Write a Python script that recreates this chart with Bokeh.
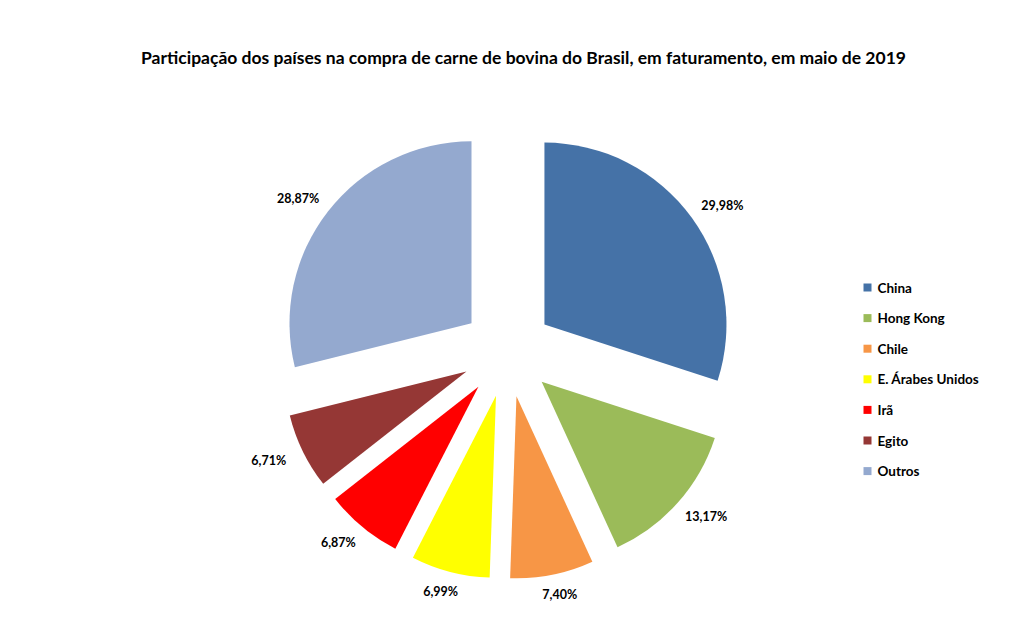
import math
from bokeh.plotting import figure
from bokeh.models import ColumnDataSource, Range1d
from bokeh.core.properties import value
from bokeh.embed import file_html
from bokeh.resources import INLINE

# Share of Brazilian beef export revenue by destination, May 2019
countries = ["China", "Hong Kong", "Chile", "E. Árabes Unidos", "Irã", "Egito", "Outros"]
shares = [29.98, 13.17, 7.40, 6.99, 6.87, 6.71, 28.87]
colors = ["#4572A7", "#9BBB59", "#F79646", "#FFFF00", "#FF0000", "#953735", "#94A9CF"]
labels = [f"{v:.2f}%".replace(".", ",") for v in shares]

W, H = 1012, 631
FONT = "Lato"

p = figure(width=W, height=H, output_backend="svg", toolbar_location=None,
           x_range=Range1d(0, W), y_range=Range1d(0, H), min_border=0,
           tools="")
p.axis.visible = False
p.grid.visible = False
p.outline_line_color = None
p.background_fill_color = "white"

# pie geometry (screen pixels, y measured upward)
cx, cy = 507.0, H - 351.0
radius = 182.0
explode = 45.7

total = sum(shares)
starts, ends, xs, ys, lx, ly = [], [], [], [], [], []
acc = 0.0
for v in shares:
    t0 = acc / total * 2 * math.pi          # clockwise from 12 o'clock
    t1 = (acc + v) / total * 2 * math.pi
    acc += v
    mid = (t0 + t1) / 2
    dx, dy = math.sin(mid), math.cos(mid)
    ox, oy = cx + explode * dx, cy + explode * dy
    xs.append(ox)
    ys.append(oy)
    starts.append(math.pi / 2 - t1)
    ends.append(math.pi / 2 - t0)
    lx.append(ox + (radius + 38) * dx)
    ly.append(oy + (radius + 20) * dy)

src = ColumnDataSource(dict(x=xs, y=ys, start=starts, end=ends, color=colors,
                            lx=lx, ly=ly, label=labels))
p.wedge(x="x", y="y", radius=radius, start_angle="start", end_angle="end",
        fill_color="color", line_color=None, source=src)
p.text(x="lx", y="ly", text="label", source=src, text_font=value(FONT),
       text_font_style="bold", text_font_size="12.5px", text_align="center",
       text_baseline="middle", text_color="#000000")

# title
p.text(x=[W / 2 + 17], y=[H - 57], text=["Participação dos países na compra de carne de bovina do Brasil, em faturamento, em maio de 2019"],
       text_font=value(FONT), text_font_style="bold", text_font_size="17.5px",
       text_align="center", text_baseline="middle", text_color="#000000")

# legend
leg_x, leg_y0, leg_step = 867.0, H - 287.0, 30.6
leg = ColumnDataSource(dict(
    x=[leg_x] * len(countries),
    y=[leg_y0 - i * leg_step for i in range(len(countries))],
    tx=[leg_x + 10] * len(countries),
    name=countries, color=colors))
p.scatter(x="x", y="y", marker="square", size=8, fill_color="color",
          line_color=None, source=leg)
p.text(x="tx", y="y", text="name", source=leg, text_font=value(FONT),
       text_font_style="bold", text_font_size="13.5px", text_align="left",
       text_baseline="middle", text_color="#000000")

open("out.html", "w").write(file_html(p, INLINE))
